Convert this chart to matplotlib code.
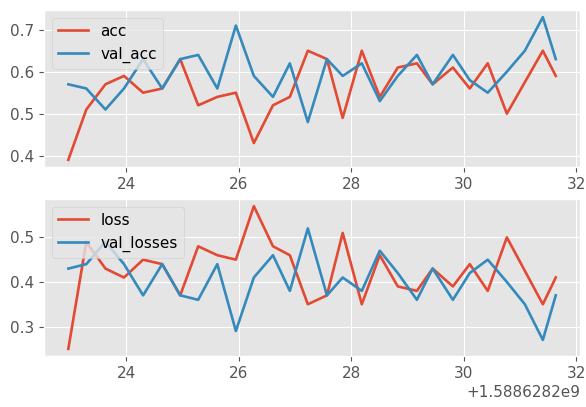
import matplotlib
matplotlib.use("Agg")
import matplotlib.pyplot as plt
import numpy as np

plt.style.use("ggplot")

base_time = 1588628200.0
time_offsets = [22.97, 23.29, 23.63, 23.96, 24.30, 24.64, 24.96, 25.28, 25.62, 25.95,
                26.27, 26.61, 26.91, 27.23, 27.57, 27.85, 28.19, 28.51, 28.83, 29.17,
                29.45, 29.81, 30.11, 30.43, 30.77, 31.09, 31.41, 31.64]

acc = [0.39, 0.51, 0.57, 0.59, 0.55, 0.56, 0.63, 0.52, 0.54, 0.55,
       0.43, 0.52, 0.54, 0.65, 0.63, 0.49, 0.65, 0.54, 0.61, 0.62,
       0.57, 0.61, 0.56, 0.62, 0.50, 0.575, 0.65, 0.59]
val_acc = [0.57, 0.56, 0.51, 0.56, 0.63, 0.56, 0.63, 0.64, 0.56, 0.71,
           0.59, 0.54, 0.62, 0.48, 0.63, 0.59, 0.62, 0.53, 0.59, 0.64,
           0.57, 0.64, 0.58, 0.55, 0.60, 0.65, 0.73, 0.63]
loss = [0.25, 0.49, 0.43, 0.41, 0.45, 0.44, 0.37, 0.48, 0.46, 0.45,
        0.57, 0.48, 0.46, 0.35, 0.37, 0.51, 0.35, 0.46, 0.39, 0.38,
        0.43, 0.39, 0.44, 0.38, 0.50, 0.425, 0.35, 0.41]
val_losses = [0.43, 0.44, 0.49, 0.44, 0.37, 0.44, 0.37, 0.36, 0.44, 0.29,
              0.41, 0.46, 0.38, 0.52, 0.37, 0.41, 0.38, 0.47, 0.42, 0.36,
              0.43, 0.36, 0.42, 0.45, 0.40, 0.35, 0.27, 0.37]

x = np.array(time_offsets) + base_time

fs = 11
plt.rcParams["font.size"] = fs
plt.rcParams["xtick.labelsize"] = fs
plt.rcParams["ytick.labelsize"] = fs
plt.rcParams["legend.fontsize"] = fs
plt.rcParams["lines.linewidth"] = 1.9

fig = plt.figure(figsize=(5.86, 4.07), dpi=100)
ax1 = fig.add_axes([0.075, 0.5897, 0.915, 0.3857])
ax2 = fig.add_axes([0.075, 0.1253, 0.915, 0.3857])

ax1.plot(x, acc, label="acc")
ax1.plot(x, val_acc, label="val_acc")
ax1.legend(loc="upper left")

ax2.plot(x, loss, label="loss")
ax2.plot(x, val_losses, label="val_losses")
ax2.legend(loc="upper left")

for ax in (ax1, ax2):
    ax.set_xticks(base_time + np.array([24, 26, 28, 30, 32]))

ax1.set_yticks([0.4, 0.5, 0.6, 0.7])
ax2.set_yticks([0.3, 0.4, 0.5])
ax1.xaxis.get_offset_text().set_visible(False)

fig.savefig("out.png", dpi=100)
